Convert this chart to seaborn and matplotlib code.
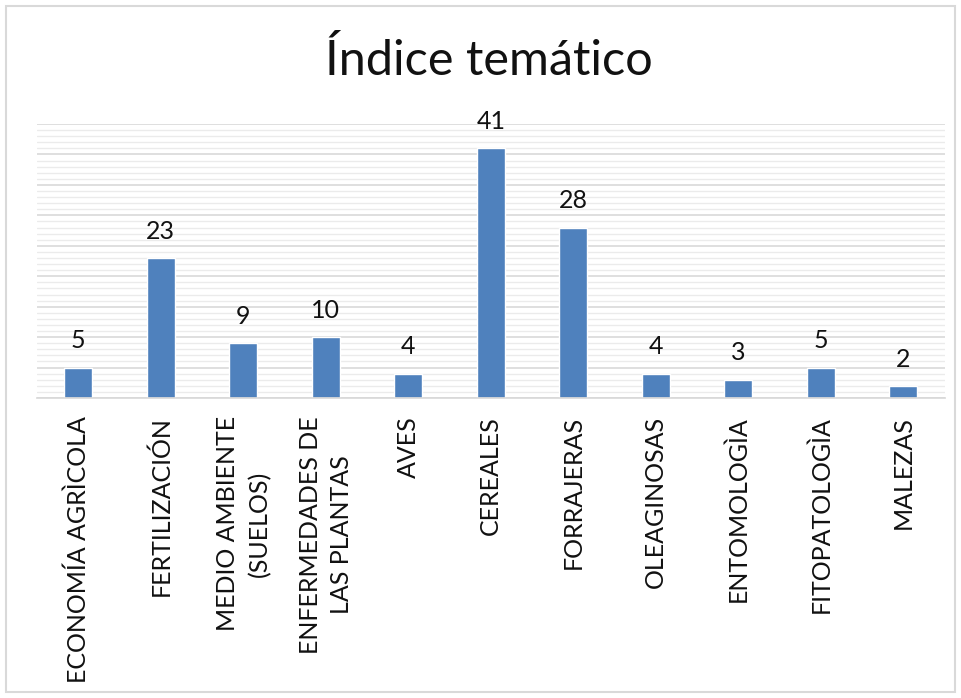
import seaborn as sns
import matplotlib.pyplot as plt
from matplotlib.patches import Rectangle
from matplotlib.ticker import MultipleLocator
import pandas as pd

categorias = ["ECONOMÍA AGRÌCOLA", "FERTILIZACIÓN", "MEDIO AMBIENTE\n(SUELOS)",
              "ENFERMEDADES DE\nLAS PLANTAS", "AVES", "CEREALES", "FORRAJERAS",
              "OLEAGINOSAS", "ENTOMOLOGÌA", "FITOPATOLOGÌA", "MALEZAS"]
cantidades = [5, 23, 9, 10, 4, 41, 28, 4, 3, 5, 2]

df = pd.DataFrame({"tema": categorias, "n": cantidades})

sns.set_theme(style="white")
plt.rcParams['font.family'] = ['Lato', 'DejaVu Sans']

fig = plt.figure(figsize=(9.61, 6.98), dpi=100)
ax = fig.add_axes([0.0385, 0.4298, 0.9445, 0.3925])

sns.barplot(data=df, x="tema", y="n", color="#4F81BD", saturation=1, width=0.34, ax=ax)

ax.set_ylim(0, 45)
ax.set_xlim(-0.5, len(categorias) - 0.5)
ax.yaxis.set_major_locator(MultipleLocator(5))
ax.yaxis.set_minor_locator(MultipleLocator(1))
ax.grid(axis="y", which="major", color="#D9D9D9", linewidth=1.2)
ax.grid(axis="y", which="minor", color="#EBEBEB", linewidth=1.0)
ax.set_axisbelow(True)
ax.set_yticklabels([])
ax.tick_params(axis="y", length=0, which="both")
ax.tick_params(axis="x", length=0, pad=13)
for s in ["top", "right", "left"]:
    ax.spines[s].set_visible(False)
ax.spines["bottom"].set_color("#D9D9D9")
ax.set_xlabel("")
ax.set_ylabel("")

ax.set_xticks(range(len(categorias)))
ax.set_xticklabels(categorias, rotation=90, va="top", ha="center",
                   fontsize=18, linespacing=1.45, color="#111111")

for i, v in enumerate(df["n"]):
    ax.annotate(str(v), (i, v), xytext=(0, 11), textcoords="offset points",
                ha="center", va="bottom", fontsize=18, color="#111111")

fig.text(0.509, 0.914, "Índice temático", ha="center", va="center",
         fontsize=35, color="#111111")

# marco del grafico
fig.patches.append(Rectangle((0.006, 0.008), 0.988, 0.984, transform=fig.transFigure,
                             fill=False, edgecolor="#D9D9D9", linewidth=1.5))

plt.savefig("out.png", dpi=100)
plt.close()
